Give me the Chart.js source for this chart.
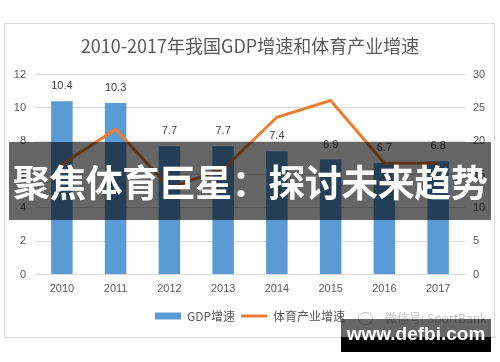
<!DOCTYPE html>
<html lang="zh-CN">
<head>
<meta charset="utf-8">
<title>2010-2017年我国GDP增速和体育产业增速</title>
<script src="https://cdn.jsdelivr.net/npm/chart.js@4.4.1/dist/chart.umd.min.js"></script>
<style>
    html, body {
        margin: 0;
        padding: 0;
        background: #ffffff;
    }

    #stage {
        position: relative;
        width: 500px;
        height: 362px;
        overflow: hidden;
    }

    #frame {
        position: absolute;
        left: 4px;
        top: 23px;
        width: 489px;
        height: 313px;
        border: 1px solid #d9d9d9;
    }

    #sportChart {
        position: absolute;
        left: 0;
        top: 0;
    }

    #stamp {
        position: absolute;
        left: 358px;
        top: 309px;
        font: 12px "Noto Sans CJK SC", sans-serif;
        color: #c4c4c4;
        white-space: nowrap;
    }

    #stamp .icon {
        display: inline-block;
        width: 13px;
        height: 11px;
        border: 1px solid #c4c4c4;
        border-radius: 50%;
        margin-right: 12px;
        vertical-align: -2px;
    }

    #banner {
        position: absolute;
        left: 9px;
        top: 142px;
        width: 482px;
        height: 78px;
        background: rgba(0, 0, 0, 0.6);
        color: #ffffff;
        font: bold 37px "Noto Sans CJK SC", sans-serif;
        line-height: 78px;
        text-align: center;
        white-space: nowrap;
        letter-spacing: -0.5px;
    }

    #siteTop {
        position: absolute;
        left: 341px;
        top: 319px;
        width: 150px;
        height: 18px;
        background: rgba(0, 0, 0, 0.6);
    }

    #siteBottom {
        position: absolute;
        left: 341px;
        top: 337px;
        width: 150px;
        height: 15px;
        background: #000000;
    }

    #siteText {
        position: absolute;
        left: 341px;
        top: 321px;
        width: 150px;
        color: #ffffff;
        font: bold 19px "Liberation Sans", sans-serif;
        line-height: 26px;
        text-align: center;
    }
</style>
</head>
<body>
<div id="stage">
    <div id="frame"></div>
    <canvas id="sportChart" width="500" height="362"></canvas>
    <div id="stamp"><span class="icon"></span>微信号: SportBank</div>
    <div id="banner">聚焦体育巨星：探讨未来趋势</div>
    <div id="siteTop"></div>
    <div id="siteBottom"></div>
    <div id="siteText">www.defbi.com</div>
</div>

<script>

// ==========================
// Data
// ==========================

const years = ["2010", "2011", "2012", "2013", "2014", "2015", "2016", "2017"];

const gdpGrowth = [10.4, 10.3, 7.7, 7.7, 7.4, 6.9, 6.7, 6.8];

const sportGrowth = [16.5, 21.8, 13.0, 15.8, 23.6, 26.1, 16.7, 16.7];

const leftTicks = [0, 2, 4, 6, 8, 10, 12];

const rightTicks = [0, 5, 10, 15, 20, 25, 30];

const chartTitle = "2010-2017年我国GDP增速和体育产业增速";

const seriesNames = ["GDP增速", "体育产业增速"];

document.addEventListener("DOMContentLoaded", () => {

    const textGray = "#595959";
    const gridGray = "#d9d9d9";
    const cjkFont = "\"Noto Sans CJK SC\", sans-serif";
    const numFont = "\"Liberation Sans\", \"Noto Sans CJK SC\", sans-serif";

    // ==========================
    // Value labels above bars
    // ==========================

    const barLabels = {

        id: "barLabels",

        afterDatasetsDraw(chart) {

            const meta = chart.getDatasetMeta(0);
            const c = chart.ctx;

            c.save();
            c.font = "11px " + numFont;
            c.fillStyle = "#404040";
            c.textAlign = "center";
            c.textBaseline = "middle";

            meta.data.forEach((bar, i) => {
                c.fillText(gdpGrowth[i].toFixed(1), bar.x, bar.y - 15);
            });

            c.restore();

        }

    };

    const ctx = document.getElementById("sportChart");

    new Chart(ctx, {

        data: {

            labels: years,

            datasets: [

                {
                    type: "bar",
                    label: seriesNames[0],
                    data: gdpGrowth,
                    yAxisID: "y",
                    backgroundColor: "#5b9bd5",
                    borderWidth: 0,
                    barPercentage: 0.4,
                    categoryPercentage: 1,
                    pointStyle: "rect",
                    order: 1
                },

                {
                    type: "line",
                    label: seriesNames[1],
                    data: sportGrowth,
                    yAxisID: "y1",
                    borderColor: "#ed7d31",
                    backgroundColor: "#ed7d31",
                    borderWidth: 3,
                    tension: 0,
                    pointRadius: 0,
                    pointStyle: "line",
                    fill: false,
                    order: 0
                }

            ]

        },

        options: {

            responsive: false,
            animation: false,

            layout: {
                padding: { top: 35, left: 0, right: 0, bottom: 30 }
            },

            plugins: {

                title: {
                    display: true,
                    text: chartTitle,
                    color: textGray,
                    font: { family: cjkFont, size: 18, weight: "normal", lineHeight: 1.2 },
                    padding: { top: 0, bottom: 18 }
                },

                legend: {
                    position: "bottom",
                    labels: {
                        usePointStyle: true,
                        pointStyleWidth: 26,
                        boxHeight: 7,
                        padding: 6,
                        color: textGray,
                        font: { family: cjkFont, size: 12 },
                        sort: (a, b) => a.datasetIndex - b.datasetIndex
                    }
                },

                tooltip: { enabled: false }

            },

            scales: {

                x: {
                    grid: { display: false, drawTicks: false },
                    border: { color: gridGray },
                    ticks: {
                        color: textGray,
                        padding: 8,
                        font: { family: numFont, size: 11 }
                    },
                    afterFit: (scale) => { scale.height = 29.5; }
                },

                y: {
                    position: "left",
                    min: leftTicks[0],
                    max: leftTicks[leftTicks.length - 1],
                    afterBuildTicks: (scale) => {
                        scale.ticks = leftTicks.map(v => ({ value: v }));
                    },
                    grid: { color: gridGray, drawTicks: false },
                    border: { display: false },
                    ticks: {
                        color: textGray,
                        padding: 9,
                        font: { family: numFont, size: 11 }
                    },
                    afterFit: (scale) => { scale.width = 35; }
                },

                y1: {
                    position: "right",
                    min: rightTicks[0],
                    max: rightTicks[rightTicks.length - 1],
                    afterBuildTicks: (scale) => {
                        scale.ticks = rightTicks.map(v => ({ value: v }));
                    },
                    grid: { display: false, drawTicks: false },
                    border: { display: false },
                    ticks: {
                        color: textGray,
                        padding: 8,
                        font: { family: numFont, size: 11 }
                    },
                    afterFit: (scale) => { scale.width = 35; }
                }

            }

        },

        plugins: [barLabels]

    });

});

</script>
</body>
</html>
